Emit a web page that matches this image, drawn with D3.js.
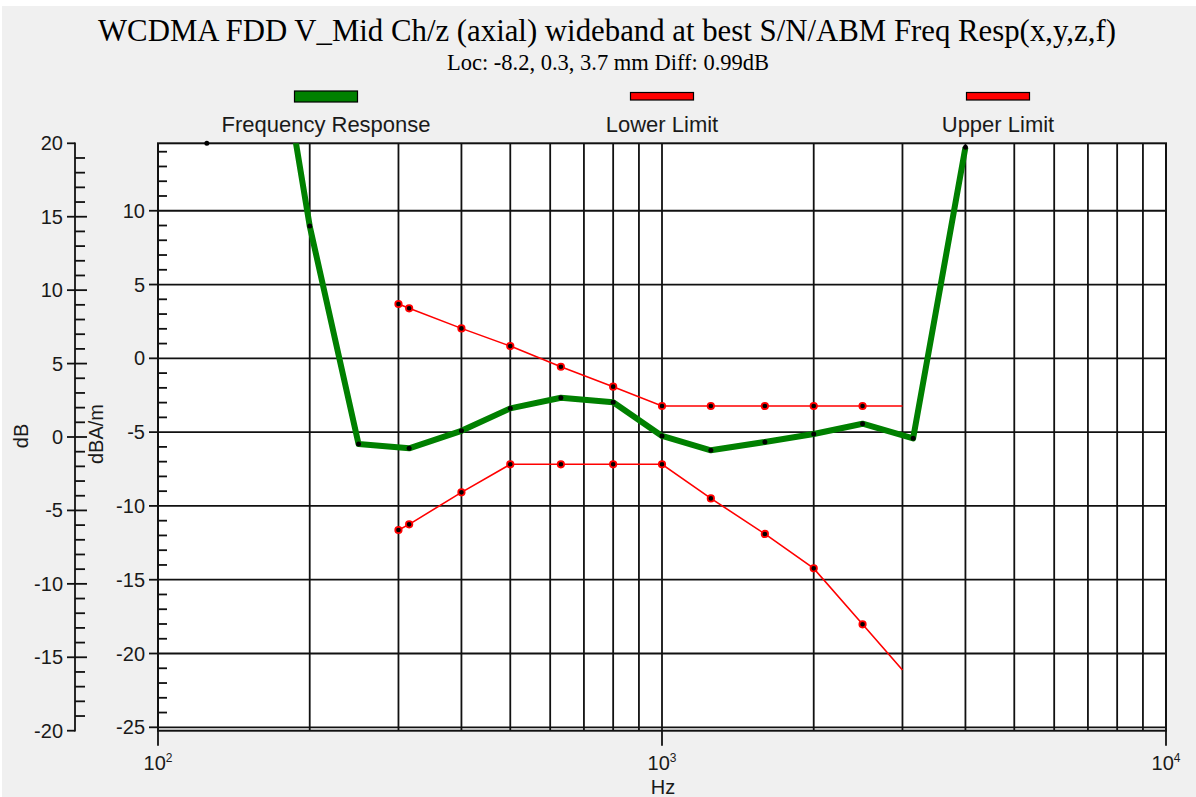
<!DOCTYPE html>
<html><head><meta charset="utf-8">
<script src="https://cdn.jsdelivr.net/npm/d3@7"></script>
<style>html,body{margin:0;padding:0;background:#fff;} svg{display:block;}</style>
</head><body>
<svg id="chart" width="1196" height="797"></svg>
<script>
// Measured frequency response (Hz, dBA/m)
const respFreq  = [125, 200, 250, 315, 400, 500, 630, 800, 1000, 1250, 1600, 2000, 2500, 3150, 4000];
const respValue = [51, 8.96, -5.81, -6.10, -4.91, -3.39, -2.67, -2.98, -5.26, -6.23, -5.67, -5.13, -4.43, -5.42, 14.3];

// Limit mask (Hz, dBA/m)
const limitFreq  = [300, 315, 400, 500, 630, 800, 1000, 1250, 1600, 2000, 2500, 3000];
const lowerLimit = [-11.63, -11.25, -9.08, -7.18, -7.18, -7.18, -7.18, -9.49, -11.9, -14.23, -18.02, -21.12];
const upperLimit = [3.68, 3.39, 2.03, 0.83, -0.57, -1.92, -3.23, -3.23, -3.23, -3.23, -3.23, -3.23];
const limitMarkerFreq = [300, 315, 400, 500, 630, 800, 1000, 1250, 1600, 2000, 2500];

// Axis ticks
const dbTicks    = [20, 15, 10, 5, 0, -5, -10, -15, -20];
const fieldTicks = [10, 5, 0, -5, -10, -15, -20, -25];
const freqTicks  = [100, 1000, 10000];
const freqExp    = ["2", "3", "4"];

const legendLabels = ["Frequency Response", "Lower Limit", "Upper Limit"];
const legendColors = ["#008000", "#ff0000", "#ff0000"];

const titleText = "WCDMA FDD V_Mid Ch/z (axial) wideband at best S/N/ABM Freq Resp(x,y,z,f)";
const subText   = "Loc: -8.2, 0.3, 3.7 mm Diff: 0.99dB";

const W = 1196, H = 797;
const plot = {l: 158, r: 1166, t: 143.3, b: 730.7};

const x      = d3.scaleLog().domain([100, 10000]).range([plot.l, plot.r]);
const yField = d3.scaleLinear().domain([-25.23, 14.57]).range([plot.b, plot.t]);
const yDb    = d3.scaleLinear().domain([-20, 20]).range([plot.b, plot.t]);

const svg = d3.select("#chart");
const sans = "'Liberation Sans', Arial, sans-serif";
const serif = "'Liberation Serif', 'Times New Roman', serif";
const ink = "#1a1a1a";

// window background
svg.append("rect").attr("width", W).attr("height", H).attr("fill", "#ffffff");
svg.append("rect").attr("x", 2).attr("y", 6).attr("width", W - 2).attr("height", H - 6).attr("fill", "#f0f0f0");

// titles
svg.append("text").attr("x", 607).attr("y", 41).attr("text-anchor", "middle")
  .attr("font-family", serif).attr("font-size", 30.8).attr("fill", "#000").text(titleText);
svg.append("text").attr("x", 608).attr("y", 70).attr("text-anchor", "middle")
  .attr("font-family", serif).attr("font-size", 22.5).attr("fill", "#000").text(subText);

// legend: three equal columns across the plot width
const colW = (plot.r - plot.l) / legendLabels.length;
legendLabels.forEach((lab, i) => {
  const cx = plot.l + colW * (i + 0.5);
  const thick = i === 0;
  svg.append("rect")
    .attr("x", cx - 31.5).attr("y", thick ? 91 : 92.5)
    .attr("width", 63).attr("height", thick ? 11 : 7.5)
    .attr("fill", legendColors[i]).attr("stroke", "#000").attr("stroke-width", 1.2);
  svg.append("text").attr("x", cx).attr("y", 132).attr("text-anchor", "middle")
    .attr("font-family", sans).attr("font-size", 22).attr("fill", ink).text(lab);
});

// plot area
svg.append("rect").attr("x", plot.l).attr("y", plot.t)
  .attr("width", plot.r - plot.l).attr("height", plot.b - plot.t).attr("fill", "#fff");

svg.append("defs").append("clipPath").attr("id", "clip")
  .append("rect").attr("x", plot.l).attr("y", plot.t)
  .attr("width", plot.r - plot.l).attr("height", plot.b - plot.t);

// grid
const grid = svg.append("g").attr("stroke", "#111").attr("stroke-width", 1.8);
x.ticks().filter(f => f > 100 && f < 10000).forEach(f => {
  grid.append("line").attr("x1", x(f)).attr("x2", x(f)).attr("y1", plot.t).attr("y2", plot.b);
});
fieldTicks.forEach(v => {
  grid.append("line").attr("x1", plot.l).attr("x2", plot.r).attr("y1", yField(v)).attr("y2", yField(v));
});

// inner (dBA/m) axis: minor ticks inside plot, major ticks outside
const inner = svg.append("g").attr("stroke", "#111").attr("stroke-width", 1.8);
d3.range(-25, 15).forEach(v => {
  if (v % 5 !== 0) {
    inner.append("line").attr("x1", plot.l).attr("x2", plot.l + 9).attr("y1", yField(v)).attr("y2", yField(v));
  } else {
    inner.append("line").attr("x1", plot.l - 9).attr("x2", plot.l).attr("y1", yField(v)).attr("y2", yField(v));
  }
});
fieldTicks.forEach(v => {
  svg.append("text").attr("x", plot.l - 13).attr("y", yField(v) + 7).attr("text-anchor", "end")
    .attr("font-family", sans).attr("font-size", 20).attr("fill", ink).text(v);
});

// outer (dB) axis
const ax0 = 75;
const outer = svg.append("g").attr("stroke", "#111").attr("stroke-width", 1.8);
outer.append("line").attr("x1", ax0).attr("x2", ax0).attr("y1", yDb(20) - 0.9).attr("y2", yDb(-20) + 0.9);
d3.range(-20, 21).forEach(v => {
  const y = yDb(v);
  if (v % 5 !== 0) {
    outer.append("line").attr("x1", ax0).attr("x2", ax0 + 10).attr("y1", y).attr("y2", y);
  } else if (v === 20 || v === -20) {
    outer.append("line").attr("x1", ax0 - 8).attr("x2", ax0).attr("y1", y).attr("y2", y);
  } else {
    outer.append("line").attr("x1", ax0 - 8).attr("x2", ax0 + 12).attr("y1", y).attr("y2", y);
  }
});
dbTicks.forEach(v => {
  svg.append("text").attr("x", ax0 - 12).attr("y", yDb(v) + 7).attr("text-anchor", "end")
    .attr("font-family", sans).attr("font-size", 20).attr("fill", ink).text(v);
});

// axis titles
svg.append("text").attr("transform", "translate(28,436) rotate(-90)").attr("text-anchor", "middle")
  .attr("font-family", sans).attr("font-size", 20).attr("fill", ink).text("dB");
svg.append("text").attr("transform", "translate(103,434) rotate(-90)").attr("text-anchor", "middle")
  .attr("font-family", sans).attr("font-size", 20).attr("fill", ink).text("dBA/m");

// x axis decade ticks and labels
freqTicks.forEach((f, i) => {
  svg.append("line").attr("x1", x(f)).attr("x2", x(f)).attr("y1", plot.b).attr("y2", plot.b + 15)
    .attr("stroke", "#111").attr("stroke-width", 1.8);
  const t = svg.append("text").attr("x", x(f)).attr("y", 770).attr("text-anchor", "middle")
    .attr("font-family", sans).attr("font-size", 20).attr("fill", ink);
  t.append("tspan").text("10");
  t.append("tspan").attr("font-size", 12).attr("dy", -8).text(freqExp[i]);
});
svg.append("text").attr("x", 663).attr("y", 794).attr("text-anchor", "middle")
  .attr("font-family", sans).attr("font-size", 20).attr("fill", ink).text("Hz");

// plot border
svg.append("rect").attr("x", plot.l).attr("y", plot.t)
  .attr("width", plot.r - plot.l).attr("height", plot.b - plot.t)
  .attr("fill", "none").attr("stroke", "#111").attr("stroke-width", 2);

// data
const data = svg.append("g").attr("clip-path", "url(#clip)");
const line = d3.line().x(d => x(d[0])).y(d => yField(d[1]));
const clampY = v => Math.max(plot.t, Math.min(plot.b, yField(v)));

const resp = respFreq.map((f, i) => [f, respValue[i]]);
const lower = limitFreq.map((f, i) => [f, lowerLimit[i]]);
const upper = limitFreq.map((f, i) => [f, upperLimit[i]]);

[lower, upper].forEach(series => {
  data.append("path").attr("d", line(series)).attr("fill", "none")
    .attr("stroke", "#ff0000").attr("stroke-width", 1.6);
  series.filter(d => limitMarkerFreq.includes(d[0])).forEach(d => {
    svg.append("circle").attr("cx", x(d[0])).attr("cy", clampY(d[1])).attr("r", 3.2)
      .attr("fill", "#000").attr("stroke", "#ff0000").attr("stroke-width", 1.8);
  });
});

data.append("path").attr("d", line(resp)).attr("fill", "none")
  .attr("stroke", "#008000").attr("stroke-width", 6).attr("stroke-linejoin", "round");
resp.forEach(d => {
  svg.append("circle").attr("cx", x(d[0])).attr("cy", clampY(d[1])).attr("r", 2.5).attr("fill", "#000");
});
</script>
</body></html>
